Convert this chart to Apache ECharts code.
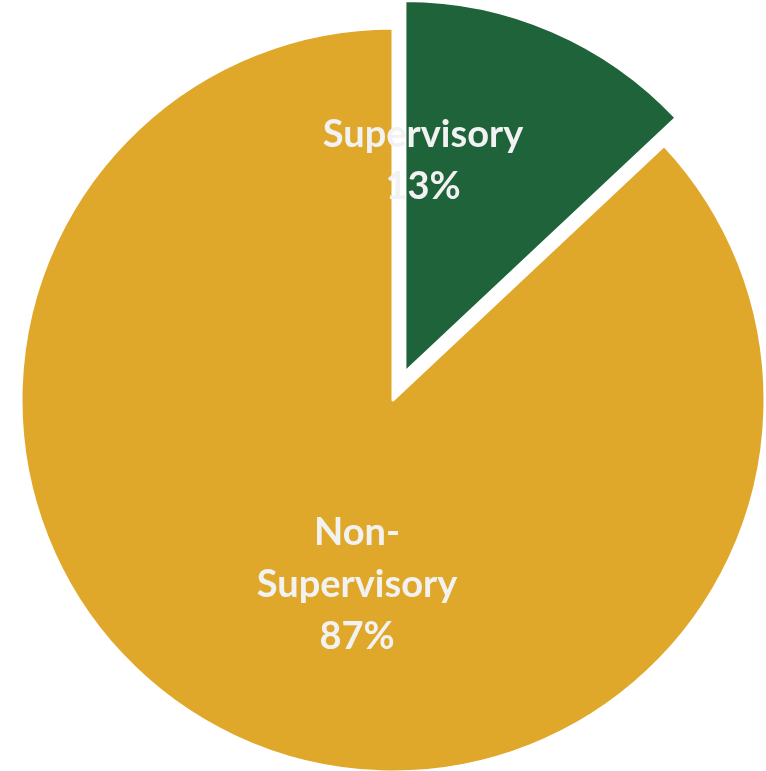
<!DOCTYPE html>
<html>
<head>
<meta charset="utf-8">
<script src="https://cdn.jsdelivr.net/npm/echarts@6/dist/echarts.min.js"></script>
<style>
  html, body { margin: 0; padding: 0; background: #ffffff; }
  #chart { width: 766px; height: 771px; }
</style>
</head>
<body>
<div id="chart"></div>
<script>
// Share of staff by role
const categories = ['Supervisory', 'Non-\nSupervisory'];
const shares = [13, 87];
const sliceColors = ['#1E6339', '#E0A82B'];

// Where each label's centre sits
const labelSpots = [[423, 161], [357, 585]];

const START_ANGLE = 90;
const PULL_OUT = 30;

// The pulled-out slice drags its label along; this is that shift for slice i.
function pullShift(i) {
  const total = shares.reduce((a, b) => a + b, 0);
  const before = shares.slice(0, i).reduce((a, b) => a + b, 0);
  const mid = (START_ANGLE - (before + shares[i] / 2) / total * 360) * Math.PI / 180;
  return [PULL_OUT * Math.cos(mid), -PULL_OUT * Math.sin(mid)];
}

const chart = echarts.init(document.getElementById('chart'), null, { renderer: 'canvas' });

chart.setOption({
  animation: false,
  backgroundColor: '#ffffff',
  series: [{
    type: 'pie',
    center: [393, 400],
    radius: 372,
    startAngle: START_ANGLE,
    clockwise: true,
    selectedMode: 'multiple',
    selectedOffset: PULL_OUT,
    emphasis: { disabled: true },
    itemStyle: { borderColor: '#ffffff', borderWidth: 3 },
    label: {
      show: true,
      position: 'inside',
      formatter: p => p.name + '\n' + p.value + '%',
      color: '#f2f2f2',
      fontFamily: 'Lato',
      fontWeight: 'bold',
      fontSize: 38,
      lineHeight: 52,
      align: 'center',
      verticalAlign: 'middle'
    },
    labelLine: { show: false },
    // shift each label from its default spot so its centre lands on labelSpots
    labelLayout: p => {
      const r = p.labelRect;
      const spot = labelSpots[p.dataIndex];
      const shift = p.dataIndex === 0 ? pullShift(0) : [0, 0];
      return {
        dx: spot[0] - shift[0] - (r.x + r.width / 2),
        dy: spot[1] - shift[1] - (r.y + r.height / 2)
      };
    },
    data: categories.map((name, i) => ({
      name: name,
      value: shares[i],
      selected: i === 0,
      itemStyle: { color: sliceColors[i] }
    }))
  }]
});
</script>
</body>
</html>
